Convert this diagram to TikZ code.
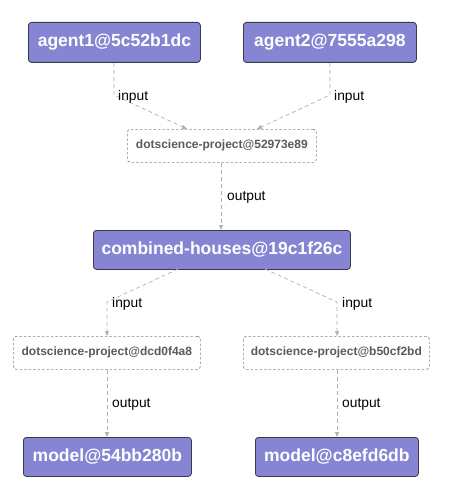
\documentclass[tikz,border=0pt]{standalone}
\usepackage{fontspec}
\setmainfont{Liberation Sans}
\usetikzlibrary{arrows.meta}
\definecolor{boxfill}{HTML}{8585D3}
\definecolor{boxline}{HTML}{3A3A4A}
\definecolor{edgegray}{HTML}{B0B0B0}
\definecolor{projtext}{HTML}{5A5A5A}
\tikzset{
  artifact/.style={draw=boxline, line width=0.8pt, fill=boxfill, rounded corners=3pt,
    text=white, font=\bfseries\fontsize{17.5}{20}\selectfont, inner sep=0pt, anchor=north west},
  project/.style={draw=edgegray!75!black, dash pattern=on 2.5pt off 2pt, line width=0.7pt, rounded corners=3pt,
    text=projtext, font=\bfseries\fontsize{12}{14}\selectfont, inner sep=0pt, anchor=north west},
  flow/.style={draw=edgegray, line width=0.7pt, dash pattern=on 4pt off 3pt, -{Triangle[length=5pt,width=4pt]}},
  elabel/.style={font=\fontsize{13.8}{16}\selectfont, text=black, anchor=west, inner sep=0pt}
}
\begin{document}
\begin{tikzpicture}[x=1pt,y=-1pt]
\useasboundingbox (0,0) rectangle (472,500);
% artifact boxes
\node[artifact, minimum width=172pt, minimum height=40pt] (a1) at (28,22) {agent1@5c52b1dc};
\node[artifact, minimum width=173pt, minimum height=40pt] (a2) at (243,22) {agent2@7555a298};
\node[artifact, minimum width=257pt, minimum height=39pt] (ch) at (93,230) {combined-houses@19c1f26c};
\node[artifact, minimum width=168pt, minimum height=39pt] (m1) at (23,437) {model@54bb280b};
\node[artifact, minimum width=163pt, minimum height=39pt] (m2) at (255,437) {model@c8efd6db};
% project boxes
\node[project, minimum width=189pt, minimum height=33pt] (p0) at (127,129) {dotscience-project@52973e89};
\node[project, minimum width=187pt, minimum height=33pt] (p1) at (13,336) {dotscience-project@dcd0f4a8};
\node[project, minimum width=186pt, minimum height=33pt] (p2) at (243,336) {dotscience-project@b50cf2bd};
% bend coordinates
\coordinate (b1) at (114,95);
\coordinate (b2) at (330,95);
\coordinate (b3) at (107,302);
\coordinate (b4) at (337,302);
% edges
\draw[flow] (a1.south -| b1) -- (b1) -- (187,129);
\draw[flow] (a2.south -| b2) -- (b2) -- (257,129);
\draw[flow] (p0.south -| 221,0) -- (ch.north -| 221,0);
\draw[flow] (178,269) -- (b3) -- (p1.north -| b3);
\draw[flow] (265,269) -- (b4) -- (p2.north -| b4);
\draw[flow] (p1.south -| b3) -- (m1.north -| b3);
\draw[flow] (p2.south -| b4) -- (m2.north -| b4);
% labels
\node[elabel] (l1) at (118,97) {input};
\node[elabel] (l2) at (334,97) {input};
\node[elabel] (l3) at (227,197) {output};
\node[elabel] (l4) at (112,304) {input};
\node[elabel] (l5) at (342,304) {input};
\node[elabel] (l6) at (112,404) {output};
\node[elabel] (l7) at (342,404) {output};
\end{tikzpicture}
\end{document}
